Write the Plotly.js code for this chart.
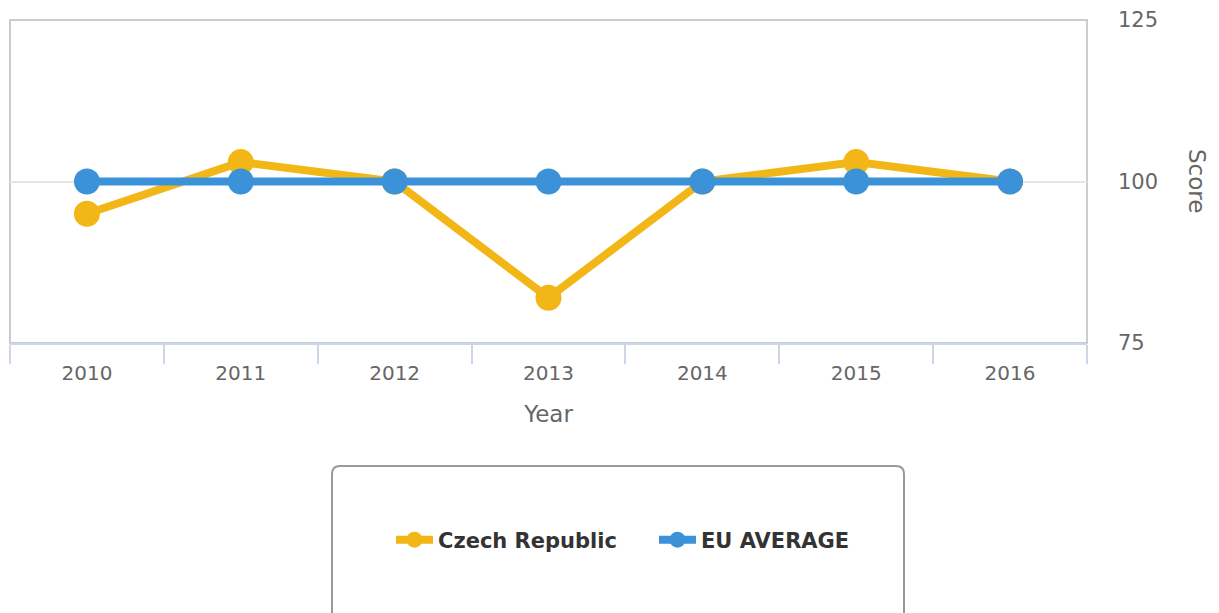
<!DOCTYPE html>
<html>
<head>
<meta charset="utf-8">
<script src="https://cdn.plot.ly/plotly-3.0.1.min.js"></script>
<style>html,body{margin:0;padding:0;background:#fff;}#chart{width:1219px;height:613px;}</style>
</head>
<body>
<div id="chart"></div>
<script>
const years = ['2010','2011','2012','2013','2014','2015','2016'];
const czechRepublic = [95, 103, 100, 82, 100, 103, 100];
const euAverage = [100, 100, 100, 100, 100, 100, 100];
const seriesNames = ['Czech Republic', 'EU AVERAGE'];
const yTicks = [75, 100, 125];

const W = 1219, H = 613;
const L = 10, R = 132, T = 20, B = 270;
const pw = W - L - R, ph = H - T - B;
const px = v => (v - L) / pw;
const py = v => (H - B - v) / ph;

// rounded legend box
const bx0 = px(332), bx1 = px(904), by0 = py(466), by1 = py(625);
const rx = 8 / pw, ry = 8 / ph;
const boxPath = `M ${bx0+rx},${by0} L ${bx1-rx},${by0} Q ${bx1},${by0} ${bx1},${by0-ry} L ${bx1},${by1} L ${bx0},${by1} L ${bx0},${by0-ry} Q ${bx0},${by0} ${bx0+rx},${by0} Z`;

const traces = [
  {x: years, y: czechRepublic, name: seriesNames[0], type: 'scatter', mode: 'lines+markers',
   line: {color: '#f2b617', width: 8}, marker: {color: '#f2b617', size: 26}},
  {x: years, y: euAverage, name: seriesNames[1], type: 'scatter', mode: 'lines+markers',
   line: {color: '#3b92d9', width: 8}, marker: {color: '#3b92d9', size: 26}}
];

const layout = {
  width: W, height: H,
  margin: {l: L, r: R, t: T, b: B},
  paper_bgcolor: '#fff', plot_bgcolor: '#fff',
  font: {family: 'DejaVu Sans, sans-serif', color: '#666'},
  showlegend: true,
  legend: {orientation: 'h', x: px(391), xanchor: 'left', y: py(540), yanchor: 'middle',
           font: {family: 'DejaVu Sans, sans-serif', size: 21, color: '#333', weight: 'bold'},
           bgcolor: 'rgba(0,0,0,0)', itemwidth: 37, entrywidth: 211, entrywidthmode: 'pixels'},
  xaxis: {type: 'category', tickson: 'boundaries', ticks: 'outside', ticklen: 19, tickcolor: '#ccd6eb', tickwidth: 1.5,
          showline: true, linecolor: '#ccd6eb', linewidth: 2, showgrid: false, zeroline: false,
          tickfont: {size: 20, color: '#666'}, range: [-0.5, 6.5], ticklabelstandoff: 11,
          title: {text: 'Year', font: {size: 23, color: '#666'}, standoff: 22}},
  yaxis: {side: 'right', range: [75, 125], tickvals: yTicks, ticks: '', showline: false,
          showgrid: true, gridcolor: '#e6e6e6', gridwidth: 1.5, zeroline: false,
          tickfont: {size: 21, color: '#666'}, ticklabelstandoff: 30},
  shapes: [
    {type: 'rect', xref: 'paper', yref: 'paper', x0: 0, x1: 1, y0: 0, y1: 1,
     line: {color: '#cccccc', width: 2}, layer: 'below'},
    {type: 'path', xref: 'paper', yref: 'paper', path: boxPath,
     line: {color: '#999999', width: 2}, fillcolor: 'rgba(0,0,0,0)', layer: 'below'}
  ],
  annotations: [
    {text: 'Score', xref: 'paper', yref: 'paper', x: px(1197), y: py(181), showarrow: false,
     textangle: 90, font: {size: 23, color: '#666'}, xanchor: 'center', yanchor: 'middle'}
  ]
};

Plotly.newPlot('chart', traces, layout, {displayModeBar: false, responsive: false});
</script>
</body>
</html>
